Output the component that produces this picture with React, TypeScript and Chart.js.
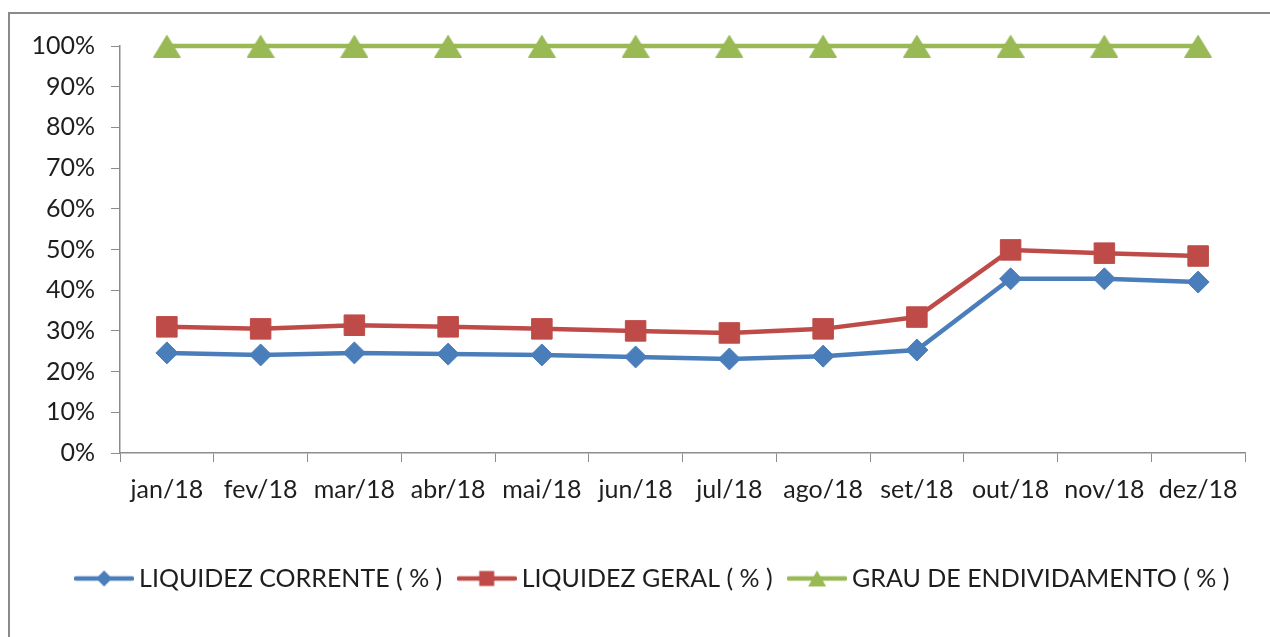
import React, { useEffect, useRef } from "react";
import { Chart, registerables } from "chart.js";

Chart.register(...registerables);

const categories = ["jan/18", "fev/18", "mar/18", "abr/18", "mai/18", "jun/18", "jul/18", "ago/18", "set/18", "out/18", "nov/18", "dez/18"];
const liquidezCorrente = [24.6, 24.1, 24.6, 24.3, 24.1, 23.6, 23.1, 23.8, 25.3, 42.8, 42.8, 42.0];
const liquidezGeral = [31.0, 30.5, 31.4, 31.0, 30.5, 30.0, 29.5, 30.5, 33.4, 49.9, 49.1, 48.4];
const grauEndividamento = [100, 100, 100, 100, 100, 100, 100, 100, 100, 100, 100, 100];
const seriesNames = ["LIQUIDEZ CORRENTE ( % )", "LIQUIDEZ GERAL ( % )", "GRAU DE ENDIVIDAMENTO ( % )"];
const yTicks = [0, 10, 20, 30, 40, 50, 60, 70, 80, 90, 100];

const BLUE = "#4a7ebb";
const RED = "#be4b48";
const GREEN = "#98b954";
const FONT = "Lato";
const TEXT = "#1e1e1e";
const AXIS = "#8c8c8c";

function makeTriangle(w: number, h: number, color: string) {
  const c = document.createElement("canvas");
  c.width = w;
  c.height = h;
  const ctx = c.getContext("2d")!;
  ctx.fillStyle = color;
  ctx.beginPath();
  ctx.moveTo(w / 2, 0);
  ctx.lineTo(w, h);
  ctx.lineTo(0, h);
  ctx.closePath();
  ctx.fill();
  return c;
}

function makeLegendIcon(kind: string, color: string) {
  const w = 60, h = 24;
  const c = document.createElement("canvas");
  c.width = w;
  c.height = h;
  const ctx = c.getContext("2d")!;
  ctx.strokeStyle = color;
  ctx.fillStyle = color;
  ctx.lineWidth = 4.5;
  ctx.lineCap = "round";
  ctx.beginPath();
  ctx.moveTo(2, h / 2);
  ctx.lineTo(w - 2, h / 2);
  ctx.stroke();
  const cx = w / 2, cy = h / 2;
  ctx.beginPath();
  if (kind === "diamond") {
    ctx.moveTo(cx, cy - 8);
    ctx.lineTo(cx + 8, cy);
    ctx.lineTo(cx, cy + 8);
    ctx.lineTo(cx - 8, cy);
  } else if (kind === "square") {
    ctx.rect(cx - 7.5, cy - 7.5, 15, 15);
  } else {
    ctx.moveTo(cx, cy - 8);
    ctx.lineTo(cx + 9, cy + 8);
    ctx.lineTo(cx - 9, cy + 8);
  }
  ctx.closePath();
  ctx.fill();
  return c;
}

const legendShift = {
  id: "legendShift",
  afterLayout(chart: any) {
    const lg = chart.legend;
    if (lg) {
      lg.left += 33;
      lg.right += 33;
    }
  },
};

export default function App() {
  const ref = useRef<HTMLCanvasElement | null>(null);

  useEffect(() => {
    if (!ref.current) return;
    const icons = [makeLegendIcon("diamond", BLUE), makeLegendIcon("square", RED), makeLegendIcon("triangle", GREEN)];
    const tri = makeTriangle(28, 23, GREEN);
    const chart = new Chart(ref.current, {
      type: "line",
      plugins: [legendShift],
      data: {
        labels: categories,
        datasets: [
          {
            label: seriesNames[0],
            data: liquidezCorrente,
            borderColor: BLUE,
            backgroundColor: BLUE,
            borderWidth: 4.5,
            pointStyle: "rectRot",
            pointRadius: 11,
            pointBorderWidth: 1,
            pointBackgroundColor: BLUE,
            pointBorderColor: BLUE,
            tension: 0,
            clip: false,
          },
          {
            label: seriesNames[1],
            data: liquidezGeral,
            borderColor: RED,
            backgroundColor: RED,
            borderWidth: 4.5,
            pointStyle: "rect",
            pointRadius: 14.5,
            pointBorderWidth: 1,
            pointBackgroundColor: RED,
            pointBorderColor: RED,
            tension: 0,
            clip: false,
          },
          {
            label: seriesNames[2],
            data: grauEndividamento,
            borderColor: GREEN,
            backgroundColor: GREEN,
            borderWidth: 4.5,
            pointStyle: tri as any,
            pointRadius: 14,
            tension: 0,
            clip: false,
          },
        ],
      },
      options: {
        animation: false,
        responsive: false,
        maintainAspectRatio: false,
        layout: { padding: { top: 46, right: 25, left: 0, bottom: 36 } },
        plugins: {
          tooltip: { enabled: false },
          legend: {
            position: "bottom",
            labels: {
              usePointStyle: true,
              pointStyleWidth: 45,
              padding: 22,
              color: TEXT,
              font: { family: FONT, size: 25 },
              generateLabels: (ch: any) => {
                const items = Chart.defaults.plugins.legend.labels.generateLabels(ch);
                return items.map((it: any, i: number) => ({ ...it, pointStyle: icons[i], lineWidth: 0 }));
              },
            },
          },
        },
        scales: {
          x: {
            offset: true,
            grid: {
              display: true,
              drawOnChartArea: false,
              drawTicks: true,
              tickLength: 9,
              color: AXIS,
              offset: true,
            },
            border: { display: true, color: AXIS, width: 1.5 },
            ticks: {
              color: TEXT,
              font: { family: FONT, size: 25 },
              padding: 13,
              maxRotation: 0,
              autoSkip: false,
            },
            afterFit: (s: any) => {
              s.height = 91;
            },
          },
          y: {
            min: 0,
            max: 100,
            afterBuildTicks: (s: any) => {
              s.ticks = yTicks.map((v) => ({ value: v }));
            },
            grid: {
              display: true,
              drawOnChartArea: false,
              drawTicks: true,
              tickLength: 9,
              color: AXIS,
            },
            border: { display: true, color: AXIS, width: 1.5 },
            ticks: {
              color: TEXT,
              font: { family: FONT, size: 25 },
              padding: 16,
              callback: (v: any) => v + "%",
            },
            afterFit: (s: any) => {
              s.width = 120;
            },
          },
        },
      },
    });
    return () => chart.destroy();
  }, []);

  return (
    <div style={{ position: "fixed", left: 0, top: 0, width: 1270, height: 637, background: "#fff", overflow: "hidden" }}>
      <div style={{ position: "absolute", left: 8, top: 12, width: 1400, height: 800, border: "2px solid #8a8a8a", boxSizing: "border-box" }} />
      <canvas ref={ref} width={1270} height={637} style={{ position: "absolute", left: 0, top: 0, width: 1270, height: 637 }} />
    </div>
  );
}
